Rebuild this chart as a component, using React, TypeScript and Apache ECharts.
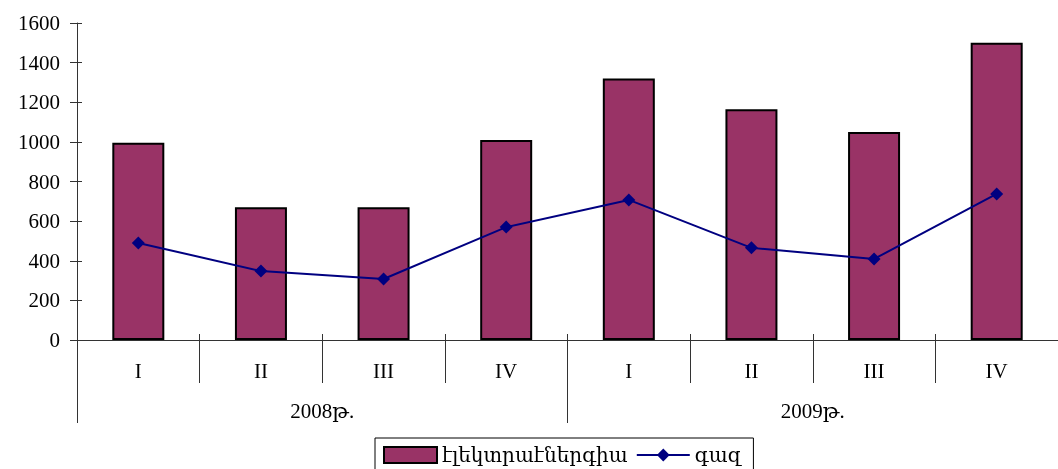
import React, { useEffect, useRef } from "react";
import * as echarts from "echarts";

const quarters = ["I", "II", "III", "IV", "I", "II", "III", "IV"];
const years = ["2008թ.", "2009թ."];
const electricity = [995, 670, 670, 1010, 1320, 1165, 1050, 1500];
const gas = [490, 348, 308, 570, 707, 465, 409, 737];
const yTicks = { min: 0, max: 1600, interval: 200 };

const FONT = "'Liberation Serif', 'DejaVu Serif', serif";
const ARM = "'DejaVu Serif', serif";
const AX = "#333";
const FS = 21;

export default function App() {
  const ref = useRef<HTMLDivElement>(null);
  useEffect(() => {
    if (!ref.current) return;
    const chart = echarts.init(ref.current, undefined, { renderer: "svg" });
    chart.setOption({
      animation: false,
      textStyle: { fontFamily: FONT },
      grid: { left: 77, top: 23, bottom: 129, right: -4, containLabel: false },
      legend: {
        left: 375,
        top: 438,
        padding: [7, 12, 7, 8],
        borderColor: "#000",
        borderWidth: 1,
        itemWidth: 53,
        itemHeight: 16,
        itemGap: 8,
        textStyle: { fontFamily: ARM, fontSize: 20, color: "#000" },
        data: [{ name: "էլեկտրաէներգիա", icon: "rect" }, { name: "գազ" }],
      },
      xAxis: [
        {
          type: "category",
          data: quarters,
          position: "bottom",
          axisLine: { show: true, lineStyle: { color: AX, width: 1 } },
          axisTick: { show: true, interval: 0, length: 43, lineStyle: { color: AX } },
          axisLabel: { interval: 0, margin: 20, fontFamily: FONT, fontSize: FS, color: "#000" },
        },
        {
          type: "category",
          data: years,
          position: "bottom",
          axisLine: { show: false },
          axisTick: { show: true, interval: 0, length: 83, lineStyle: { color: AX } },
          axisLabel: { interval: 0, margin: 60, fontFamily: FONT, fontSize: FS, color: "#000" },
        },
        {
          type: "category",
          data: quarters,
          position: "bottom",
          axisLine: { show: false },
          axisTick: { show: true, inside: true, interval: 0, length: 6, lineStyle: { color: AX } },
          axisLabel: { show: false },
        },
      ],
      yAxis: [
        {
          type: "value",
          position: "left",
          ...yTicks,
          splitLine: { show: false },
          axisLine: { show: true, lineStyle: { color: AX, width: 1 } },
          axisTick: { show: true, length: 7, lineStyle: { color: AX } },
          axisLabel: {
            margin: 17,
            fontFamily: FONT,
            fontSize: FS,
            color: "#000",
            formatter: (v: number) => String(v),
          },
        },
        {
          type: "value",
          position: "left",
          ...yTicks,
          splitLine: { show: false },
          axisLine: { show: false },
          axisTick: { show: true, inside: true, length: 5, lineStyle: { color: AX } },
          axisLabel: { show: false },
        },
      ],
      series: [
        {
          name: "էլեկտրաէներգիա",
          type: "bar",
          data: electricity,
          barWidth: 52,
          itemStyle: { color: "#993366", borderColor: "#000", borderWidth: 2 },
        },
        {
          name: "գազ",
          type: "line",
          data: gas,
          symbol: "diamond",
          symbolSize: 13,
          lineStyle: { color: "#000080", width: 2 },
          itemStyle: { color: "#000080" },
          z: 3,
        },
      ],
    });
    return () => chart.dispose();
  }, []);
  return (
    <div style={{ position: "fixed", left: 0, top: 0 }}>
      <div ref={ref} style={{ width: 1058, height: 469 }} />
    </div>
  );
}
